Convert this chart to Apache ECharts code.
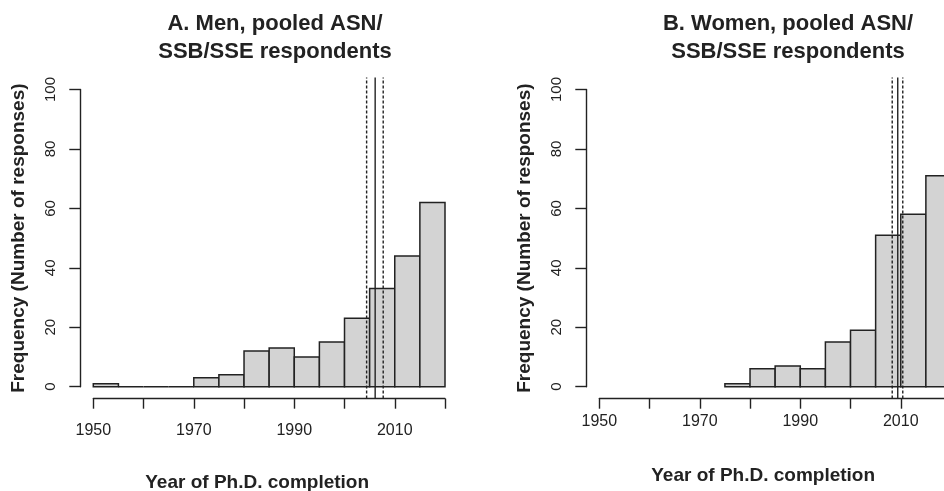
<!DOCTYPE html>
<html>
<head>
<meta charset="utf-8">
<script src="https://cdn.jsdelivr.net/npm/echarts@6/dist/echarts.min.js"></script>
<style>
html, body { margin: 0; padding: 0; background: #fff; }
#main { width: 944px; height: 491px; }
</style>
</head>
<body>
<div id="main"></div>
<script>
// 5-year bins (left edge of each bin)
var menBins = [1950, 1955, 1960, 1965, 1970, 1975, 1980, 1985, 1990, 1995, 2000, 2005, 2010, 2015];
var menCounts = [1, 0, 0, 0, 3, 4, 12, 13, 10, 15, 23, 33, 44, 62];
var womenBins = [1975, 1980, 1985, 1990, 1995, 2000, 2005, 2010, 2015];
var womenCounts = [1, 6, 7, 6, 15, 19, 51, 58, 71];
var binWidth = 5;

// vertical reference lines: lower (dashed), centre (solid), upper (dashed)
var menLines = [2004.4, 2006.1, 2007.7];
var womenLines = [2008.3, 2009.4, 2010.4];

var xLabelYears = [1950, 1970, 1990, 2010];
var menTitle = 'A. Men, pooled ASN/\nSSB/SSE respondents';
var womenTitle = 'B. Women, pooled ASN/\nSSB/SSE respondents';
var xName = 'Year of Ph.D. completion';
var yName = 'Frequency (Number of responses)';

var FONT = '"Liberation Sans", Arial, Helvetica, sans-serif';
var INK = '#222';

function toPairs(xs, ys) {
	var out = [];
	for (var i = 0; i < xs.length; i++) out.push([xs[i], ys[i]]);
	return out;
}

function linePairs(v) {
	return [[v[0], 0], [v[1], 1], [v[2], 0]];
}

// histogram rectangle for one bin
var histItem = function(params, api) {
	var x0 = api.value(0), n = api.value(1);
	var p0 = api.coord([x0, n]);
	var p1 = api.coord([x0 + binWidth, 0]);
	return {
		type: 'rect',
		shape: { x: p0[0], y: p0[1], width: p1[0] - p0[0], height: p1[1] - p0[1] },
		style: { fill: '#d3d3d3', stroke: INK, lineWidth: 1.5 }
	};
};

// abline across the whole plot region (y from -4 to 104, like R)
var vlineItem = function(params, api) {
	var x = api.value(0);
	var a = api.coord([x, -4]);
	var b = api.coord([x, 104]);
	return {
		type: 'line',
		shape: { x1: a[0], y1: a[1], x2: b[0], y2: b[1] },
		style: { stroke: INK, lineWidth: 1.4, lineDash: api.value(1) ? null : [3, 2] }
	};
};

function xAxisFor(gridIndex, labelMargin, nameGap) {
	return {
		type: 'value', gridIndex: gridIndex,
		min: 1950, max: 2020, interval: 10,
		offset: 12,
		axisLine: { show: true, onZero: false, lineStyle: { color: INK, width: 1.4 } },
		axisTick: { show: true, length: 10, lineStyle: { color: INK, width: 1.4 } },
		axisLabel: {
			margin: labelMargin, fontSize: 16, color: INK, fontFamily: FONT,
			formatter: function(v) { return xLabelYears.indexOf(v) >= 0 ? String(v) : ''; }
		},
		splitLine: { show: false },
		name: xName, nameLocation: 'middle', nameGap: nameGap,
		nameTextStyle: { fontSize: 19, fontWeight: 'bold', color: INK, fontFamily: FONT, padding: [0, 24, 0, 0] }
	};
}

function yAxisFor(gridIndex) {
	return {
		type: 'value', gridIndex: gridIndex,
		min: 0, max: 100, interval: 20,
		offset: 13,
		axisLine: { show: true, onZero: false, lineStyle: { color: INK, width: 1.4 } },
		axisTick: { show: true, length: 11, lineStyle: { color: INK, width: 1.4 } },
		axisLabel: { margin: 22, rotate: 90, fontSize: 15, color: INK, fontFamily: FONT },
		splitLine: { show: false },
		name: yName, nameLocation: 'middle', nameGap: 52,
		nameTextStyle: { fontSize: 19, fontWeight: 'bold', color: INK, fontFamily: FONT }
	};
}

var option = {
	backgroundColor: '#fff',
	animation: false,
	title: [
		{ text: menTitle, left: 270, top: 5, textAlign: 'center',
		  textStyle: { fontSize: 22, fontWeight: 'bold', lineHeight: 28, color: INK, fontFamily: FONT } },
		{ text: womenTitle, left: 783, top: 5, textAlign: 'center',
		  textStyle: { fontSize: 22, fontWeight: 'bold', lineHeight: 28, color: INK, fontFamily: FONT } }
	],
	grid: [
		{ left: 93.3, top: 89.5, width: 351.7, height: 297.2, containLabel: false, outerBoundsMode: 'none' },
		{ left: 599.3, top: 89.5, width: 351.7, height: 297.2, containLabel: false, outerBoundsMode: 'none' }
	],
	xAxis: [xAxisFor(0, 24, 75), xAxisFor(1, 15, 68)],
	yAxis: [yAxisFor(0), yAxisFor(1)],
	series: [
		{ type: 'custom', xAxisIndex: 0, yAxisIndex: 0, renderItem: histItem, data: toPairs(menBins, menCounts), clip: false },
		{ type: 'custom', xAxisIndex: 0, yAxisIndex: 0, renderItem: vlineItem, data: linePairs(menLines), clip: false },
		{ type: 'custom', xAxisIndex: 1, yAxisIndex: 1, renderItem: histItem, data: toPairs(womenBins, womenCounts), clip: false },
		{ type: 'custom', xAxisIndex: 1, yAxisIndex: 1, renderItem: vlineItem, data: linePairs(womenLines), clip: false }
	]
};

var myChart = echarts.init(document.getElementById('main'));
myChart.setOption(option);
</script>
</body>
</html>
